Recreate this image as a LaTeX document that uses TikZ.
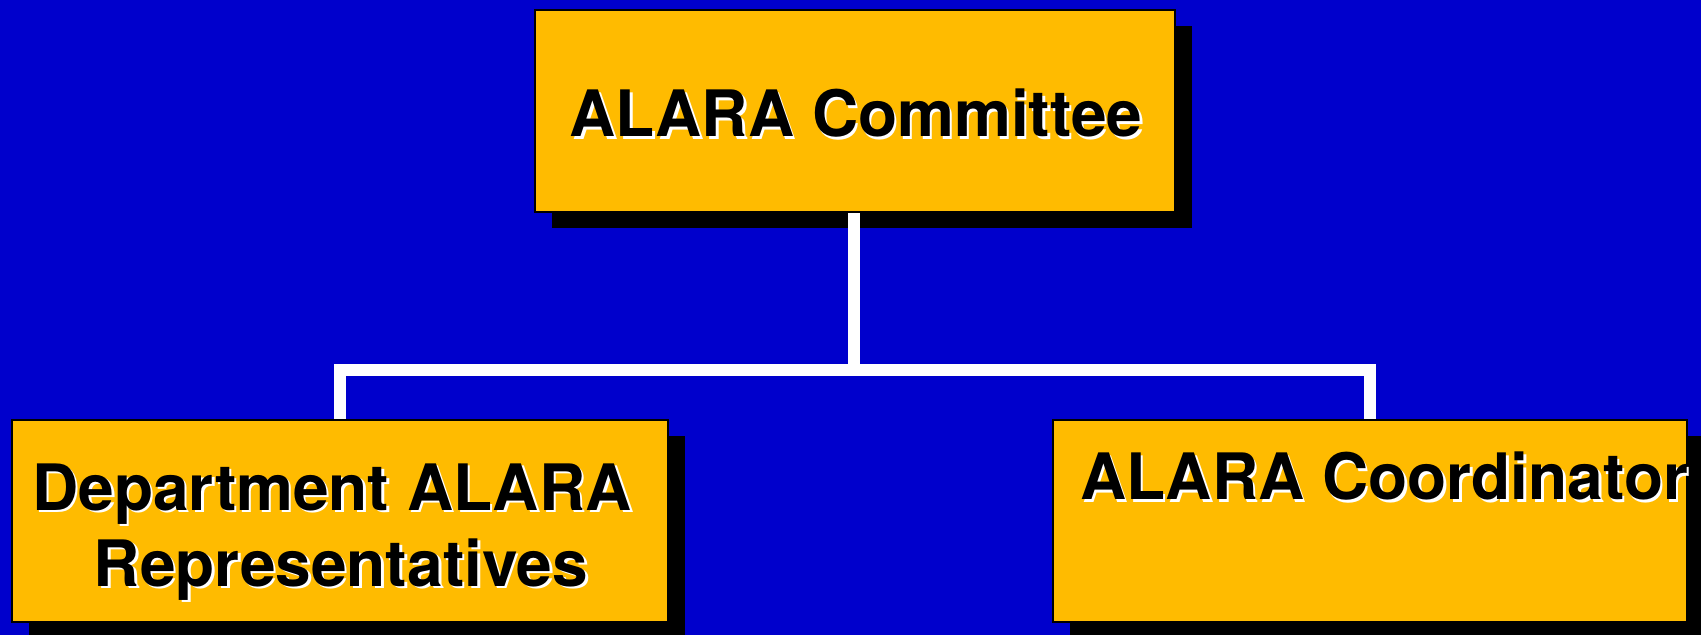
\documentclass[tikz,border=0pt]{standalone}
\usepackage{fontspec}
\setmainfont{TeX Gyre Heros}
\usetikzlibrary{backgrounds}
\definecolor{bgblue}{RGB}{0,0,204}
\definecolor{gold}{RGB}{255,187,0}
\newcommand\shtxt[1]{\rlap{\hspace{1.3pt}\raisebox{-1.3pt}{\color{white}#1}}#1}
\begin{document}
\begin{tikzpicture}[x=0.5pt,y=-0.5pt,
  box/.style={draw=black,line width=0.6pt,fill=gold,inner sep=0pt,outer sep=0pt,minimum height=101pt},
  shadowfill/.style={fill=black},
  conn/.style={draw=white,line width=6pt,line join=miter},
  lbl/.style={inner sep=0pt,outer sep=0pt,text=black,font=\fontsize{32}{38}\selectfont\bfseries}]
\useasboundingbox (0,0) rectangle (1701,635);
% boxes
\node[box,minimum width=320pt] (top) at (855,111) {};
\node[box,minimum width=328pt] (left) at (340,521) {};
\node[box,minimum width=317pt] (right) at (1370,521) {};
\coordinate (bus) at (854,370);
\begin{pgfonlayer}{background}
  \fill[bgblue] (0,0) rectangle (1701,635);
  \fill[shadowfill] ([shift={(16.5,16.5)}]top.north west) rectangle ([shift={(16.5,16.5)}]top.south east);
  \fill[shadowfill] ([shift={(16.5,16.5)}]left.north west) rectangle ([shift={(16.5,16.5)}]left.south east);
  \fill[shadowfill] ([shift={(16.5,16.5)}]right.north west) rectangle ([shift={(16.5,16.5)}]right.south east);
  \draw[conn] (bus |- top.south) -- (bus);
  \draw[conn] (left.north) |- (bus) -| (right.north);
\end{pgfonlayer}
% texts
\node[lbl,anchor=base] (ttop) at (856,137) {\shtxt{ALARA Committee}};
\node[lbl,anchor=base] (tleft1) at (332,510) {\shtxt{Department ALARA}};
\node[lbl,anchor=base] (tleft2) at (341,586) {\shtxt{Representatives}};
\node[lbl,anchor=base west] (tright) at (1080,500) {\shtxt{ALARA Coordinator}};
\end{tikzpicture}
\end{document}
